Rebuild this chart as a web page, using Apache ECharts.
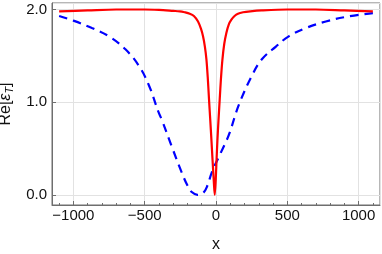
<!DOCTYPE html>
<html><head><meta charset="utf-8">
<script src="https://cdn.jsdelivr.net/npm/echarts@6/dist/echarts.min.js"></script>
<style>html,body{margin:0;padding:0;background:#fff}#c{width:382px;height:254px}</style>
</head><body><div id="c"></div>
<script>
// Red solid curve (x, Re[eps_T])
const redX = [-1100, -900, -700, -500, -400, -300, -254, -220, -184, -155, -126, -105, -91, -78, -67, -58, -49, -40, -32, -24, -16, -9, -2, 4, 10, 18, 26, 35, 45, 58, 73, 90, 108, 130, 154, 190, 240, 320, 500, 700, 900, 1100];
const redY = [1.98, 1.99, 2.0, 2.0, 1.995, 1.985, 1.98, 1.97, 1.955, 1.93, 1.87, 1.79, 1.71, 1.60, 1.46, 1.27, 1.03, 0.80, 0.59, 0.37, 0.16, 0.0, 0.16, 0.38, 0.59, 0.82, 1.03, 1.26, 1.46, 1.63, 1.75, 1.84, 1.89, 1.93, 1.955, 1.97, 1.98, 1.99, 2.0, 2.0, 1.99, 1.98];
// Blue dashed curve
const blueX = [-1100, -1000, -870, -750, -635, -540, -470, -405, -380, -310, -240, -200, -170, -130, -90, -60, -30, 20, 75, 96, 160, 250, 320, 420, 510, 630, 770, 910, 1100];
const blueY = [1.93, 1.88, 1.80, 1.71, 1.57, 1.39, 1.18, 0.90, 0.81, 0.52, 0.24, 0.10, 0.03, 0.0, 0.02, 0.10, 0.24, 0.41, 0.59, 0.67, 0.97, 1.28, 1.46, 1.60, 1.71, 1.80, 1.87, 1.92, 1.96];
const xRange = [-1150, 1150];
const yRange = [-0.11, 2.07];
const xMajorLabels = [-1000, -500, 0, 500, 1000];
const yMajorLabels = [0, 1, 2];

const zip = (xs, ys) => xs.map((x, i) => [x, ys[i]]);
const axisGray = '#6e6e6e';
const font = 'Liberation Sans';

const chart = echarts.init(document.getElementById('c'), null, {renderer: 'canvas'});
chart.setOption({
  animation: false,
  grid: [
    {left: 52, right: 2, top: 3, bottom: 49, show: true, borderColor: axisGray, borderWidth: 1, containLabel: false, outerBoundsMode: 'none'},
    {left: 59.13, right: 9.13, top: 3, bottom: 49, containLabel: false, outerBoundsMode: 'none'}
  ],
  xAxis: [{
    type: 'value', gridIndex: 0, min: xRange[0], max: xRange[1],
    name: 'x', nameLocation: 'middle', nameGap: 32,
    nameTextStyle: {fontFamily: font, fontSize: 16, color: '#111'},
    axisLine: {show: true, onZero: false, lineStyle: {color: axisGray, width: 1}},
    axisTick: {show: true, inside: true, length: 4, lineStyle: {color: axisGray}},
    axisLabel: {
      show: true, margin: 3, fontFamily: font, fontSize: 15, color: '#111',
      showMinLabel: false, showMaxLabel: false,
      formatter: v => xMajorLabels.indexOf(v) >= 0 ? String(v).replace('-', '\u2212') : ''
    },
    splitLine: {show: true, lineStyle: {color: '#e2e2e2', width: 1}}
  }, {
    type: 'value', gridIndex: 1, min: -1100, max: 1100, interval: 100,
    axisLine: {show: false},
    axisTick: {show: true, inside: true, length: 2, lineStyle: {color: axisGray}},
    axisLabel: {show: false},
    splitLine: {show: false}
  }],
  yAxis: [{
    type: 'value', gridIndex: 0, min: yRange[0], max: yRange[1], splitNumber: 2,
    name: '{a|Re[}{e|ε}{s|T}{a|]}', nameLocation: 'middle', nameGap: 32,
    nameTextStyle: {
      fontFamily: font, fontSize: 16, color: '#111',
      rich: {
        a: {fontFamily: font, fontSize: 16, color: '#111'},
        e: {fontFamily: font, fontSize: 16, fontStyle: 'italic', color: '#111'},
        s: {fontFamily: font, fontSize: 11, fontStyle: 'italic', color: '#111', padding: [8, 0, 0, 0]}
      }
    },
    axisLine: {show: true, onZero: false, lineStyle: {color: axisGray, width: 1}},
    axisTick: {show: true, inside: true, length: 4, lineStyle: {color: axisGray}},
    axisLabel: {
      show: true, margin: 5, fontFamily: font, fontSize: 15, color: '#111',
      showMinLabel: false, showMaxLabel: false,
      formatter: v => yMajorLabels.indexOf(v) >= 0 ? v.toFixed(1) : ''
    },
    splitLine: {show: true, lineStyle: {color: '#e2e2e2', width: 1}}
  }, {
    type: 'value', gridIndex: 1, min: 0, max: 1, show: false
  }],
  series: [{
    type: 'line', xAxisIndex: 0, yAxisIndex: 0, data: zip(blueX, blueY),
    smooth: 0.4, showSymbol: false, z: 2,
    lineStyle: {color: '#0000ff', width: 2.2, type: [8.5, 6]}
  }, {
    type: 'line', xAxisIndex: 0, yAxisIndex: 0, data: zip(redX, redY),
    smooth: 0.3, showSymbol: false, z: 3,
    lineStyle: {color: '#ff0000', width: 2.2}
  }]
});
</script></body></html>
